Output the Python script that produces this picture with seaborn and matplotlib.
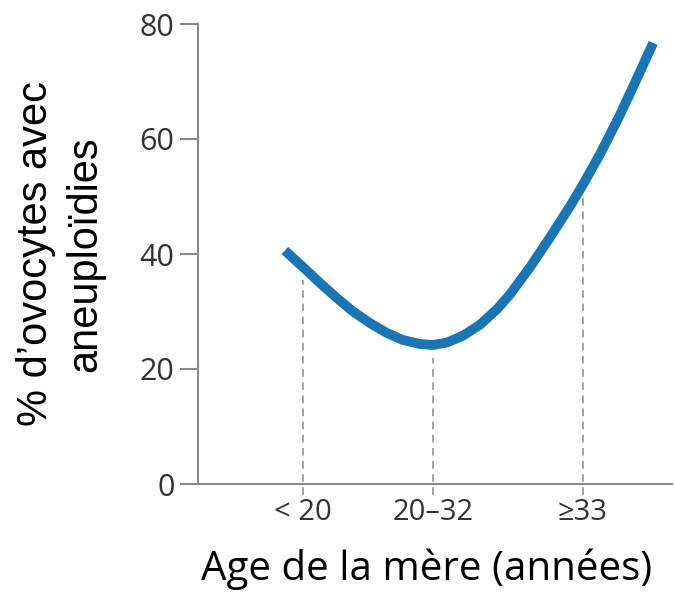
import numpy as np
import pandas as pd
import matplotlib
matplotlib.use("Agg")
import matplotlib.pyplot as plt
import seaborn as sns

# Maternal age (years) along the curve and % of oocytes with aneuploidy
age = [16.89, 18.0, 19.05, 20.09, 21.08, 22.12, 23.17, 24.15, 25.2, 26.0, 26.86, 27.85,
       28.89, 29.94, 30.74, 31.97, 33.2, 34.43, 35.23, 36.28, 37.45, 38.62, 39.54]
aneuploidy_pct = [40.61, 37.74, 34.96, 32.35, 30.0, 28.0, 26.26, 25.04, 24.35, 24.17, 24.6, 25.8,
                  27.7, 30.4, 33.0, 37.7, 42.9, 48.3, 52.1, 57.4, 63.9, 71.0, 76.7]

# Age groups marked on the x axis
group_labels = ["< 20", "20\u201332", "\u226533"]
group_age = [18.0, 26.0, 35.2]

y_ticks = [0, 20, 40, 60, 80]

sns.set_style("white")
plt.rcParams["font.family"] = ["Open Sans", "DejaVu Sans"]

fig = plt.figure(figsize=(6.74, 6.0), dpi=100)
ax = fig.add_axes([198 / 674, 116 / 600, 474 / 674, 460 / 600])

df = pd.DataFrame({"age": age, "pct": aneuploidy_pct})
sns.lineplot(data=df, x="age", y="pct", sort=False, color="#1b74b3",
             linewidth=7, solid_capstyle="butt", solid_joinstyle="round",
             ax=ax, zorder=3)

ax.set_xlim(11.55, 40.7)
ax.set_ylim(0, 80)

# dashed guides from just under the curve down past the axis
curve_at_group = np.interp(group_age, age, aneuploidy_pct)
ax.vlines(group_age, ymin=-1.9, ymax=curve_at_group - 2.3,
          colors="#8c8c8c", linewidth=1.1, linestyles=(0, (5, 3.6)),
          clip_on=False, zorder=2)

axis_grey = "#8a8a8a"
for side in ("top", "right"):
    ax.spines[side].set_visible(False)
for side in ("left", "bottom"):
    ax.spines[side].set_color(axis_grey)
    ax.spines[side].set_linewidth(1.5)

ax.set_yticks(y_ticks)
ax.set_yticklabels([str(v) for v in y_ticks])
ax.tick_params(axis="y", left=True, length=13, width=1.5, color=axis_grey, pad=4,
               labelsize=22, labelcolor="#333333")
ax.set_xticks(group_age)
ax.set_xticklabels(group_labels)
ax.tick_params(axis="x", bottom=False, length=0, pad=10, labelsize=21,
               labelcolor="#333333")

ax.set_xlabel("Age de la m\u00e8re (ann\u00e9es)", fontsize=29, color="black",
              family=["Open Sans", "DejaVu Sans"], va="baseline")
ax.xaxis.set_label_coords(0.482, -0.2087)

ax.set_ylabel("% d\u2019ovocytes avec\naneuplo\u00efdies", fontsize=30, color="black",
              family=["Liberation Sans", "DejaVu Sans"], va="center",
              linespacing=1.3)
ax.yaxis.set_label_coords(-0.29, 0.5)

fig.savefig("out.png", dpi=100, facecolor="white")
